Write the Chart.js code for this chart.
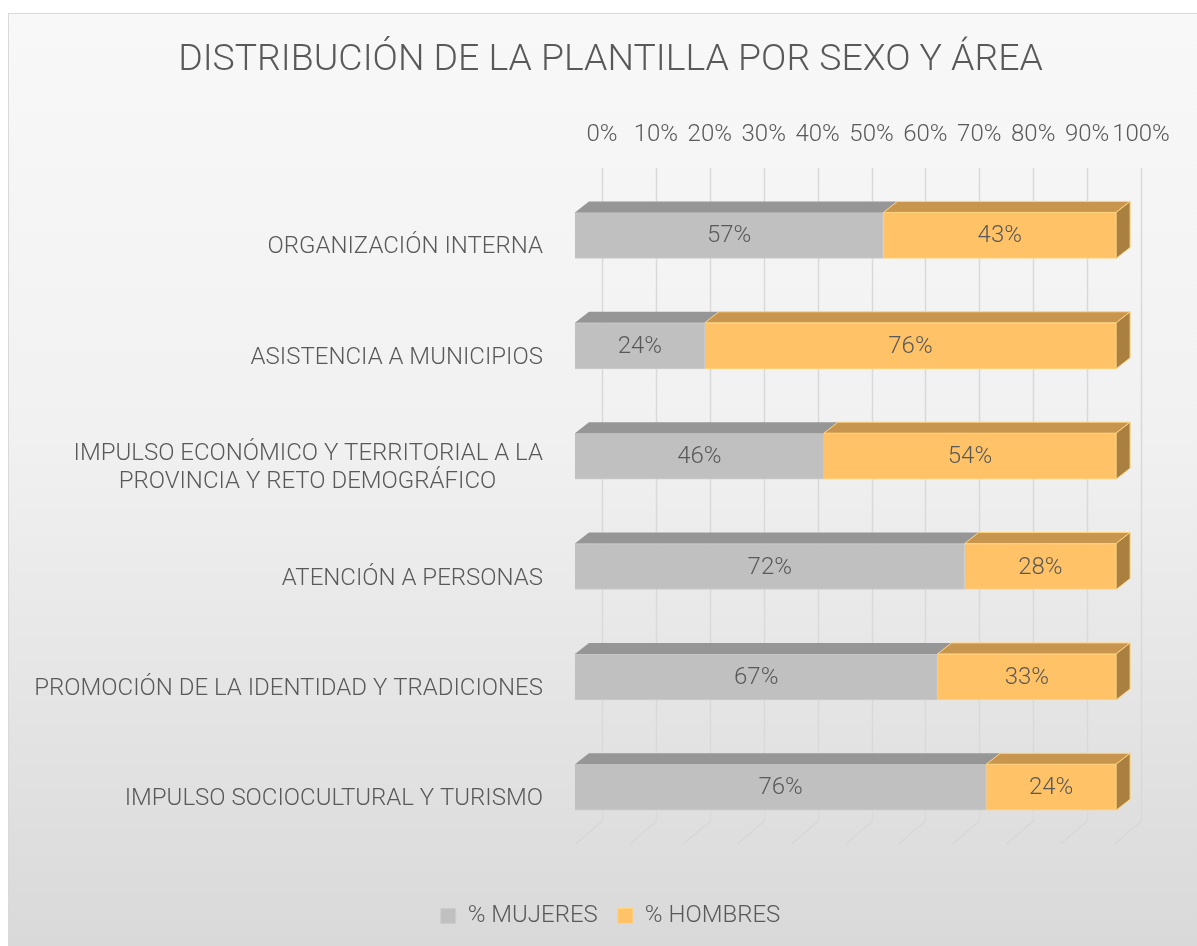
<!DOCTYPE html>
<html>
<head>
<meta charset="utf-8">
<script src="https://cdn.jsdelivr.net/npm/chart.js@4.4.1/dist/chart.umd.min.js"></script>
<style>
html,body{margin:0;padding:0;background:#ffffff;}
canvas{display:block;}
</style>
</head>
<body>
<canvas id="c" width="1197" height="946"></canvas>
<script>
// ---- data ----
const titleText = 'DISTRIBUCIÓN DE LA PLANTILLA POR SEXO Y ÁREA';
const categories = [
  'ORGANIZACIÓN INTERNA',
  'ASISTENCIA A MUNICIPIOS',
  ['IMPULSO ECONÓMICO Y TERRITORIAL A LA', 'PROVINCIA Y RETO DEMOGRÁFICO\u00A0\u00A0\u00A0\u00A0\u00A0\u00A0\u00A0\u00A0'],
  'ATENCIÓN A PERSONAS',
  'PROMOCIÓN DE LA IDENTIDAD Y TRADICIONES',
  'IMPULSO SOCIOCULTURAL Y TURISMO'
];
const seriesNames = ['% MUJERES', '% HOMBRES'];
const mujeres = [57, 24, 46, 72, 67, 76];
const hombres = [43, 76, 54, 28, 33, 24];
const tickValues = [0, 10, 20, 30, 40, 50, 60, 70, 80, 90, 100];

// ---- styles ----
const TXT = '#595959';
const FONT = 'Roboto, "Liberation Sans", Arial, sans-serif';
const frontColors = ['#c0c0c0', '#ffc266'];
const borderColors = ['#cccccc', '#ffd47f'];
const topColors = ['#969696', '#c8954f'];
const sideColors = ['#8a8a8a', '#aa8040'];
const DX = 14, DY = 11;

const bgPlugin = {
  id: 'bg',
  beforeDraw(chart) {
    const ctx = chart.ctx;
    ctx.save();
    ctx.fillStyle = '#ffffff';
    ctx.fillRect(0, 0, chart.width, chart.height);
    const g = ctx.createLinearGradient(0, 13, 0, chart.height);
    g.addColorStop(0, '#f8f8f8');
    g.addColorStop(0.45, '#f1f1f1');
    g.addColorStop(1, '#d9d9d9');
    ctx.fillStyle = g;
    ctx.fillRect(8, 13, chart.width - 8, chart.height - 13);
    ctx.strokeStyle = '#d9d9d9';
    ctx.lineWidth = 1;
    ctx.strokeRect(8.5, 13.5, chart.width, chart.height);
    ctx.restore();
  }
};

const gridPlugin = {
  id: 'grid3d',
  beforeDatasetsDraw(chart) {
    const ctx = chart.ctx;
    const xs = chart.scales.x;
    ctx.save();
    tickValues.forEach(v => {
      const px = Math.round(xs.getPixelForValue(v)) + 0.5;
      ctx.strokeStyle = '#d9d9d9';
      ctx.lineWidth = 1.5;
      ctx.beginPath();
      ctx.moveTo(px, 168);
      ctx.lineTo(px, 821);
      ctx.stroke();
      ctx.strokeStyle = 'rgba(0,0,0,0.035)';
      ctx.lineWidth = 1.5;
      ctx.beginPath();
      ctx.moveTo(px, 821);
      ctx.lineTo(px - 27, 844);
      ctx.stroke();
    });
    ctx.restore();
  }
};

const facesPlugin = {
  id: 'faces3d',
  afterDatasetsDraw(chart) {
    const ctx = chart.ctx;
    ctx.save();
    const n = chart.data.datasets.length;
    for (let d = 0; d < n; d++) {
      const meta = chart.getDatasetMeta(d);
      meta.data.forEach(el => {
        const l = Math.min(el.base, el.x), r = Math.max(el.base, el.x);
        const t = el.y - el.height / 2, b = el.y + el.height / 2;
        ctx.fillStyle = topColors[d];
        ctx.strokeStyle = borderColors[d];
        ctx.lineWidth = 1;
        ctx.beginPath();
        ctx.moveTo(l, t);
        ctx.lineTo(r, t);
        ctx.lineTo(r + DX, t - DY);
        ctx.lineTo(l + DX, t - DY);
        ctx.closePath();
        ctx.fill();
        if (d === 1) ctx.stroke();
        if (d === n - 1) {
          ctx.fillStyle = sideColors[d];
          ctx.beginPath();
          ctx.moveTo(r, t);
          ctx.lineTo(r + DX, t - DY);
          ctx.lineTo(r + DX, b - DY);
          ctx.lineTo(r, b);
          ctx.closePath();
          ctx.fill();
          ctx.stroke();
        }
      });
    }
    // labels
    ctx.fillStyle = TXT;
    ctx.font = '300 24px ' + FONT;
    ctx.textAlign = 'center';
    ctx.textBaseline = 'middle';
    for (let d = 0; d < n; d++) {
      const meta = chart.getDatasetMeta(d);
      const ds = chart.data.datasets[d];
      meta.data.forEach((el, i) => {
        const cx = (el.base + el.x) / 2;
        ctx.fillText(ds.data[i].x + '%', cx, el.y + 1);
      });
    }
    ctx.restore();
  }
};

const ctx = document.getElementById('c').getContext('2d');
new Chart(ctx, {
  type: 'bar',
  data: {
    labels: categories,
    datasets: [
      {
        label: seriesNames[0],
        data: mujeres.map((v, i) => ({x: v, y: i})),
        backgroundColor: frontColors[0], borderColor: borderColors[0], borderWidth: 1,
        xAxisID: 'xb', yAxisID: 'yb', clip: false, barThickness: 46
      },
      {
        label: seriesNames[1],
        data: hombres.map((v, i) => ({x: v, y: i})),
        backgroundColor: frontColors[1], borderColor: borderColors[1], borderWidth: 1,
        xAxisID: 'xb', yAxisID: 'yb', clip: false, barThickness: 46
      }
    ]
  },
  options: {
    indexAxis: 'y',
    responsive: false,
    animation: false,
    layout: {padding: {left: 24, top: 13, right: 0, bottom: 8}},
    scales: {
      x: {
        type: 'linear', position: 'top', min: 0, max: 100, offset: false,
        afterBuildTicks: s => { s.ticks = tickValues.map(v => ({value: v})); },
        ticks: {callback: v => v + '%', padding: 0, color: TXT, autoSkip: false, maxRotation: 0,
                font: {family: FONT, size: 24, weight: 300, lineHeight: 1.2}},
        grid: {display: false, drawTicks: true, tickLength: 42.4}, border: {display: false},
        afterFit: s => { s.height = 99.4; }
      },
      xb: {
        type: 'linear', position: 'bottom', min: 5, max: 104.6, stacked: true, offset: false,
        ticks: {display: false, padding: 0}, grid: {display: false, drawTicks: false}, border: {display: false},
        afterFit: s => { s.height = 29.5; }
      },
      y: {
        type: 'category', position: 'left', labels: categories, offset: true,
        ticks: {padding: 0, color: TXT, autoSkip: false,
                font: {family: FONT, size: 24, weight: 300, lineHeight: 1.15}},
        grid: {display: false, drawTicks: true, tickLength: 59}, border: {display: false},
        afterFit: s => { s.width = 578; }
      },
      yb: {
        type: 'linear', display: false, min: -0.391, max: 5.609, reverse: true, stacked: true, offset: false
      },
      yr: {
        type: 'linear', position: 'right', offset: false,
        ticks: {display: false, padding: 0}, grid: {display: false, drawTicks: false}, border: {display: false},
        afterFit: s => { s.width = 56; }
      }
    },
    plugins: {
      title: {
        display: true, text: titleText, color: TXT,
        font: {family: FONT, size: 37.4, weight: 300, lineHeight: 1.2},
        padding: {top: 25, bottom: 10}
      },
      legend: {
        display: true, position: 'bottom',
        labels: {boxWidth: 15, boxHeight: 15, padding: 20, color: TXT,
                 font: {family: FONT, size: 24, weight: 300}}
      },
      tooltip: {enabled: false}
    }
  },
  plugins: [bgPlugin, gridPlugin, facesPlugin]
});
</script>
</body>
</html>
